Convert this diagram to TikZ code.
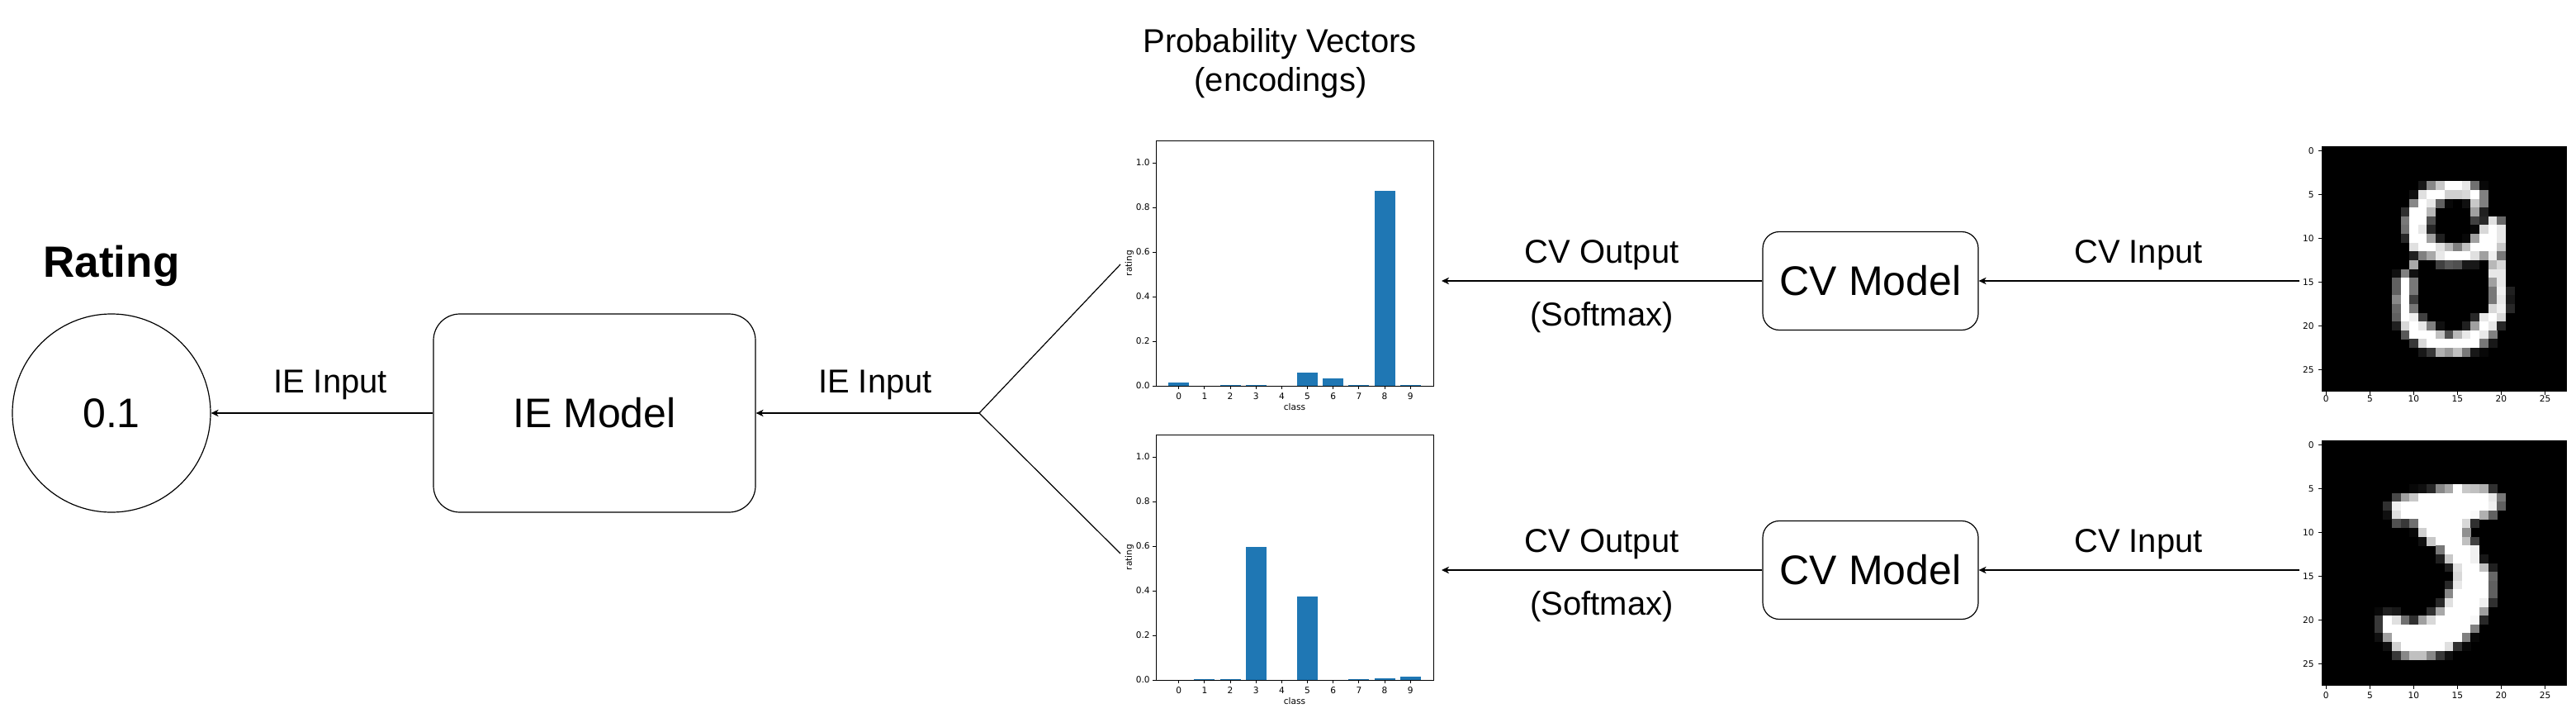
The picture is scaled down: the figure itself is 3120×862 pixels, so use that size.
\documentclass[tikz,border=0pt]{standalone}
\usepackage{fontspec}
\setmainfont{Liberation Sans}
\newfontfamily\mplfont{DejaVu Sans}
\usetikzlibrary{arrows.meta}
\definecolor{barblue}{HTML}{1F77B4}

\newcommand\drawbarchart[3]{%
\begin{scope}[shift={(1427.74,#1)},x=15.5845pt,y=135pt]
  \foreach \kk/\vv in {#3} \fill[barblue] (\kk-0.4,0) rectangle (\kk+0.4,\vv);
  \draw[axln] (-0.89,0) rectangle (9.89,1.1);
  \foreach \yt in {0.0,0.2,0.4,0.6,0.8,1.0} {
    \draw[axln] (-0.89,\yt) -- ++(-2pt,0);
    \node[mpl,anchor=east] (#2y\yt) at ([xshift=-3.5pt]-0.89,\yt) {\yt};
  }
  \foreach \kk in {0,...,9} {
    \draw[axln] (\kk,0) -- ++(0,-2pt);
    \node[mpl,anchor=base] (#2x\kk) at ([yshift=-8pt]\kk,0) {\kk};
  }
  \node[mpl,anchor=base] (#2cls) at ([yshift=-14.5pt]4.5,0) {class};
  \node[mpl,rotate=90] (#2rat) at ([xshift=-16pt]-0.89,0.55) {rating};
\end{scope}}

\newcommand\drawdigit[4]{%
\begin{scope}[shift={(2812,#1)},x=5.30357pt,y=-5.30357pt]
  \fill[black] (0,0) rectangle (28,28);
  \foreach \ii/\ja/\jb/\gv in {#3} {
    \definecolor{pxc}{RGB}{\gv,\gv,\gv}
    \fill[pxc] (\ja,\ii) rectangle (\jb+1.03,\ii+1.03);
  }
  \foreach \tk in {0,5,10,15,20,25} {
    \draw[axln] (0,\tk+0.5) -- ++(-2pt,0);
    \node[mpl,anchor=east] (#2y\tk) at ([xshift=-4.5pt]0,\tk+0.5) {\tk};
    \draw[axln] (\tk+0.5,28) -- ++(0,-2pt);
    \node[mpl,anchor=base] (#2x\tk) at ([yshift=-#4]\tk+0.5,28) {\tk};
  }
\end{scope}}

\begin{document}
\begin{tikzpicture}[x=0.5pt,y=-0.5pt,
  line/.style={draw=black,line width=0.6pt},
  conn/.style={line,-{Stealth[length=4.5pt,width=4.2pt,inset=1.3pt]}},
  lbl/.style={font=\fontsize{20}{24}\selectfont,anchor=base,inner sep=0pt},
  bigtxt/.style={font=\fontsize{25}{30}\selectfont},
  iebox/.style={line,rounded corners=16pt,minimum width=195pt,minimum height=120pt,inner sep=0pt,bigtxt},
  cvbox/.style={line,rounded corners=10pt,minimum width=130.5pt,minimum height=59.5pt,inner sep=0pt,bigtxt},
  mpl/.style={font=\mplfont\fontsize{5.3}{6}\selectfont,inner sep=0pt},
  axln/.style={draw=black,line width=0.45pt}]
\fill[white] (0,0) rectangle (3120,862);
\useasboundingbox (0,0) rectangle (3120,862);

% left part
\node[circle,line,minimum size=120pt,inner sep=0pt,bigtxt] (out) at (135,500) {0.1};
\node[font=\bfseries\fontsize{26.5}{30}\selectfont,anchor=base,inner sep=0pt] (ratingt) at (135,335) {Rating};
\node[iebox] (ie) at (720,500) {IE Model};
\draw[conn] (ie.west) -- (out.east);
\node[lbl] (ielbl1) at (400,475) {IE Input};
\coordinate (fork) at (1186,500);
\draw[conn] (fork) -- (ie.east);
\node[lbl] (ielbl2) at (1060,475) {IE Input};
\coordinate (enc1) at (1357,320);
\coordinate (enc2) at (1357,670);
\draw[line] (enc1) -- (fork) -- (enc2);

% title
\node[lbl] (t1) at (1550,63) {Probability Vectors};
\node[lbl] (t2) at (1551,110) {(encodings)};

% charts
\drawbarchart{467}{ca}{0/0.015,2/0.004,3/0.004,5/0.059,6/0.033,7/0.004,8/0.874,9/0.004}
\drawbarchart{823}{cb}{1/0.004,2/0.004,3/0.598,5/0.375,7/0.004,8/0.009,9/0.016}

% CV models
\node[cvbox] (cv1) at (2265.5,340) {CV Model};
\node[cvbox] (cv2) at (2265.5,690) {CV Model};
\coordinate (p1in) at (1746,340);
\coordinate (p2in) at (1746,690);
\draw[conn] (cv1.west) -- (p1in);
\draw[conn] (cv2.west) -- (p2in);
\coordinate (img1) at (2785,340);
\coordinate (img2) at (2785,690);
\draw[conn] (img1) -- (cv1.east);
\draw[conn] (img2) -- (cv2.east);
\node[lbl] (cvo1) at (1940,318) {CV Output};
\node[lbl] (sm1) at (1940,394) {(Softmax)};
\node[lbl] (cvi1) at (2590,318) {CV Input};
\node[lbl] (cvo2) at (1940,668) {CV Output};
\node[lbl] (sm2) at (1940,744) {(Softmax)};
\node[lbl] (cvi2) at (2590,668) {CV Input};

% digits
\drawdigit{177}{da}{4/11/11/24,4/12/12/136,4/13/13/200,4/14/15/255,4/16/16/232,4/17/17/112,4/18/18/8,
5/10/10/16,5/11/11/224,5/12/13/255,5/14/15/208,5/16/16/216,5/17/17/255,5/18/18/128,
6/10/10/136,6/11/11/255,6/12/12/232,6/13/13/96,6/14/14/8,6/16/16/16,6/17/17/200,6/18/18/128,
7/9/9/48,7/10/11/255,7/12/12/184,7/17/17/160,7/18/18/32,
8/9/9/120,8/10/11/255,8/12/12/80,8/17/17/64,8/18/18/40,8/19/19/224,8/20/20/104,
9/9/9/112,9/10/10/255,9/11/11/232,9/12/12/40,9/17/17/8,9/18/18/216,9/19/19/255,9/20/20/232,
10/9/9/40,10/10/11/255,10/12/12/160,10/13/13/32,10/16/16/8,10/17/17/160,10/18/19/255,10/20/20/232,
11/10/10/224,11/11/12/255,11/13/13/224,11/14/14/184,11/15/15/128,11/16/16/192,11/17/19/255,11/20/20/200,
12/10/10/32,12/11/11/128,12/12/12/168,12/13/13/232,12/14/16/255,12/17/17/224,12/18/18/160,12/19/19/240,12/20/20/120,
13/10/10/168,13/13/13/64,13/14/14/88,13/15/15/80,13/16/17/24,13/19/19/184,13/20/20/216,
14/8/8/16,14/9/9/128,14/10/10/16,14/19/20/232,
15/8/8/96,15/9/9/255,15/10/10/120,15/19/19/160,15/20/20/232,
16/8/8/96,16/9/9/255,16/10/10/120,16/19/19/120,16/20/20/240,16/21/21/32,
17/8/8/136,17/9/9/255,17/10/10/64,17/19/19/120,17/20/20/232,17/21/21/24,
18/8/8/104,18/9/9/255,18/10/10/120,18/19/19/216,18/20/20/240,18/21/21/40,
19/8/8/96,19/9/9/255,19/10/10/240,19/11/11/64,19/17/17/40,19/18/18/232,19/19/19/255,19/20/20/216,
20/8/8/32,20/9/9/216,20/10/10/255,20/11/11/232,20/12/12/128,20/13/13/16,20/16/16/32,20/17/17/160,20/18/18/255,20/19/19/232,20/20/20/40,
21/9/9/88,21/10/12/255,21/13/13/192,21/14/14/80,21/15/15/184,21/16/16/232,21/17/17/255,21/18/18/232,21/19/19/128,
22/10/10/56,22/11/11/216,22/12/17/255,22/18/18/120,22/19/19/24,
23/11/11/24,23/12/12/56,23/13/13/176,23/14/14/152,23/15/15/192,23/16/16/120,23/17/17/24,23/18/18/8}{6pt}

\drawdigit{533}{db}{5/10/10/8,5/11/11/16,5/12/12/40,5/13/13/136,5/14/14/168,5/15/15/255,5/16/16/200,5/17/17/192,5/18/18/176,5/19/19/48,
6/8/8/72,6/9/9/160,6/10/10/200,6/11/18/255,6/19/19/232,6/20/20/120,
7/7/7/48,7/8/8/240,7/9/18/255,7/19/19/240,7/20/20/96,
8/7/7/16,8/8/8/224,8/9/16/255,8/17/17/248,8/18/18/176,8/19/19/96,
9/8/8/80,9/9/9/56,9/10/10/112,9/11/15/255,9/16/16/216,9/17/17/48,
10/10/10/8,10/11/11/208,10/12/15/255,10/16/16/144,
11/11/11/16,11/12/12/200,11/13/15/255,11/16/16/192,11/17/17/64,
12/13/13/120,12/14/16/255,12/17/17/240,
13/13/13/32,13/14/14/200,13/15/16/255,13/17/17/240,13/18/18/24,
14/14/14/32,14/15/15/224,14/16/17/255,14/18/18/192,14/19/19/32,
15/15/15/216,15/16/18/255,15/19/19/104,
16/14/14/40,16/15/15/232,16/16/18/255,16/19/19/96,
17/14/14/136,17/15/18/255,17/19/19/96,
18/13/13/40,18/14/14/224,18/15/17/255,18/18/18/240,18/19/19/48,
19/6/6/8,19/7/7/32,19/8/8/24,19/12/12/48,19/13/13/168,19/14/17/255,19/18/18/160,
20/6/6/56,20/7/7/255,20/8/8/224,20/9/9/112,20/10/10/48,20/11/11/160,20/12/12/216,20/13/16/255,20/17/17/248,20/18/18/40,
21/6/6/56,21/7/16/255,21/17/17/128,
22/6/6/16,22/7/7/160,22/8/15/255,22/16/16/128,22/17/17/8,
23/7/7/16,23/8/8/208,23/9/13/255,23/14/14/224,23/15/15/48,23/16/16/8,
24/8/8/56,24/9/9/136,24/10/10/192,24/11/11/192,24/12/12/136,24/13/13/56,24/14/14/16}{7.5pt}
\end{tikzpicture}
\end{document}
